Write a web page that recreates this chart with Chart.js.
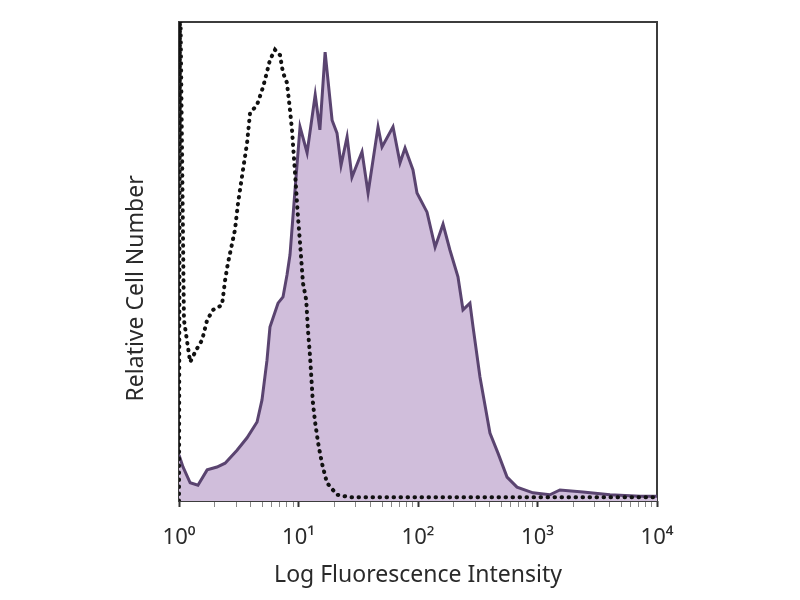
<!DOCTYPE html>
<html>
<head>
<meta charset="utf-8">
<title>Log Fluorescence Intensity histogram</title>
<script src="https://cdn.jsdelivr.net/npm/chart.js@4.4.1/dist/chart.umd.min.js"></script>
<style>
  html, body { margin: 0; padding: 0; background: #fff; }
  #wrap { width: 800px; height: 600px; }
</style>
</head>
<body>
<div id="wrap"><canvas id="histChart" width="800" height="600"></canvas></div>
<script>
// stained cells (filled histogram)
const stainedX = [1.0, 1.08, 1.24, 1.44, 1.72, 2.08, 2.43, 3.06, 3.71, 4.5,
  4.95, 5.45, 5.77, 6.74, 7.42, 8.01, 8.49, 9.35, 10.3, 11.8,
  13.8, 15.1, 16.7, 19.1, 21.0, 22.7, 25.5, 28.0, 34.0, 38.2,
  46.3, 50.0, 61.8, 70.7, 77.9, 90.8, 98.1, 119, 139, 162,
  185, 216, 238, 272, 289, 330, 400, 467, 556, 674,
  917, 1270, 1540, 2400, 4040, 7210, 10000];
const stainedY = [9.6, 7.1, 3.8, 3.3, 6.5, 7.1, 7.9, 10.6, 13.2, 16.5,
  21.1, 29.4, 36.3, 41.3, 42.6, 47.2, 51.4, 64.9, 78.1, 72.7,
  84.8, 77.5, 93.7, 79.5, 76.8, 70.1, 76.0, 67.6, 72.9, 64.3,
  78.1, 73.9, 78.1, 70.6, 73.7, 69.1, 64.3, 60.3, 53.0, 57.8,
  52.4, 46.8, 39.9, 41.3, 36.3, 25.9, 14.2, 10.0, 5.0, 2.9,
  1.7, 1.3, 2.3, 1.9, 1.3, 1.0, 1.0];

// control (dotted histogram)
const controlX = [1.0, 1.02, 1.10, 1.24, 1.39, 1.56, 1.72, 1.93, 2.29, 2.43,
  2.57, 2.94, 3.12, 3.43, 3.71, 3.93, 4.5, 5.05, 5.45, 5.77,
  6.36, 7.0, 7.42, 8.01, 8.49, 8.82, 9.35, 9.9, 10.3, 10.9,
  11.6, 12.0, 12.5, 13.2, 13.8, 14.6, 15.7, 17.3, 21.0, 27.0,
  10000];
const controlY = [0, 110, 37.8, 29.0, 31.5, 33.6, 37.8, 39.9, 40.9, 46.1,
  49.7, 56.6, 62.2, 69.1, 74.7, 81.0, 82.7, 86.4, 89.6, 92.1,
  94.2, 93.1, 89.4, 87.3, 81.6, 77.5, 68.5, 59.3, 53.9, 45.5,
  42.0, 35.7, 30.1, 20.5, 16.3, 12.1, 7.9, 3.8, 1.3, 0.8,
  0.8];

const majorTicks = [1, 10, 100, 1000, 10000];
const tickLabels = ["10\u2070", "10\u00b9", "10\u00b2", "10\u00b3", "10\u2074"];
const xTitle = "Log Fluorescence Intensity";
const yTitle = "Relative Cell Number";

// minor ticks 2..9 inside each decade
const tickValues = [];
majorTicks.forEach((m, i) => {
  tickValues.push(m);
  if (i < majorTicks.length - 1) {
    for (let k = 2; k <= 9; k++) tickValues.push(m * k);
  }
});

const toPoints = (xs, ys) => xs.map((x, i) => ({ x, y: ys[i] }));

// box round the plot area
const framePlugin = {
  id: "frame",
  beforeDatasetsDraw(chart) {
    const { ctx, chartArea: a } = chart;
    ctx.save();
    ctx.strokeStyle = "#3c3c3c";
    ctx.lineWidth = 2;
    ctx.strokeRect(a.left, a.top, a.right - a.left, a.bottom - a.top);
    ctx.restore();
  }
};

const ctx = document.getElementById("histChart").getContext("2d");
new Chart(ctx, {
  type: "line",
  data: {
    datasets: [
      {
        label: "Control",
        data: toPoints(controlX, controlY),
        borderColor: "#111",
        borderWidth: 4,
        borderDash: [0.5, 6.5],
        borderCapStyle: "round",
        pointRadius: 0,
        tension: 0,
        fill: false,
        order: 0
      },
      {
        label: "Stained",
        data: toPoints(stainedX, stainedY),
        borderColor: "#5a4470",
        backgroundColor: "#d0bedb",
        borderWidth: 3,
        pointRadius: 0,
        tension: 0,
        fill: "origin",
        order: 1
      }
    ]
  },
  options: {
    responsive: false,
    animation: false,
    layout: { padding: { top: 22, right: 143, left: 0, bottom: 0 } },
    plugins: { legend: { display: false }, tooltip: { enabled: false } },
    scales: {
      x: {
        type: "logarithmic",
        min: 1,
        max: 10000,
        afterBuildTicks: scale => {
          scale.ticks = tickValues.map(v => ({ value: v, major: majorTicks.includes(v) }));
        },
        afterFit: scale => { scale.height = 99; },
        border: { display: false },
        grid: {
          drawOnChartArea: false,
          drawTicks: true,
          tickLength: 6,
          tickColor: c => (majorTicks.includes(c.tick && c.tick.value) ? "#333" : "#888"),
          tickWidth: c => (majorTicks.includes(c.tick && c.tick.value) ? 2 : 1)
        },
        ticks: {
          autoSkip: false,
          maxRotation: 0,
          padding: 18,
          color: "#2a2a2a",
          font: { family: "'Noto Sans', sans-serif", size: 22 },
          callback: v => {
            const k = majorTicks.indexOf(v);
            return k >= 0 ? tickLabels[k] : "";
          }
        },
        title: {
          display: true,
          text: xTitle,
          color: "#2a2a2a",
          font: { family: "'Noto Sans', sans-serif", size: 23 },
          padding: { top: 0, bottom: 11 }
        }
      },
      y: {
        min: 0,
        max: 100,
        afterFit: scale => { scale.width = 179; },
        border: { display: false },
        grid: { display: false },
        ticks: { display: false },
        title: {
          display: true,
          // trailing spaces push the centred title a little lower, like the original
          text: yTitle + "         ",
          color: "#2a2a2a",
          font: { family: "'Noto Sans', sans-serif", size: 23 },
          padding: { top: 123, bottom: 0 }
        }
      }
    }
  },
  plugins: [framePlugin]
});
</script>
</body>
</html>
